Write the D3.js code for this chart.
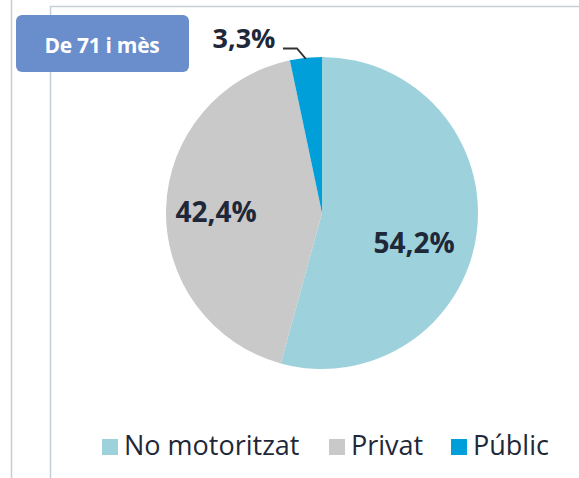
<!DOCTYPE html>
<html><head><meta charset="utf-8">
<script src="https://cdn.jsdelivr.net/npm/d3@7"></script>
<style>html,body{margin:0;padding:0;background:#fff;}svg{display:block;}</style>
</head><body>
<svg id="c" width="579" height="478"></svg>
<script>
const categories = ["No motoritzat", "Privat", "Públic"];
const values = [54.2, 42.4, 3.3];
const labels = ["54,2%", "42,4%", "3,3%"];
const colors = ["#9DD1DC", "#C9C9C9", "#009FD9"];
const title = "De 71 i mès";

const svg = d3.select("#c");
// frame lines
svg.append("line").attr("x1",11.5).attr("x2",11.5).attr("y1",0).attr("y2",478).attr("stroke","#C5CED8").attr("stroke-width",1.5);
svg.append("line").attr("x1",50.5).attr("x2",50.5).attr("y1",6).attr("y2",478).attr("stroke","#C5CED8").attr("stroke-width",1.5);
svg.append("line").attr("x1",50).attr("x2",579).attr("y1",6.5).attr("y2",6.5).attr("stroke","#C5CED8").attr("stroke-width",1.5);

const cx = 322, cy = 213, r = 156;
const pie = d3.pie().sort(null).value(d => d)(values);
const arc = d3.arc().innerRadius(0).outerRadius(r);
const g = svg.append("g").attr("transform", `translate(${cx},${cy})`);
g.selectAll("path").data(pie).join("path")
  .attr("d", arc).attr("fill", (d,i) => colors[i]);

const fontLab = "'Open Sans', sans-serif";
const labPos = [[414, 243], [216, 212]];
g.selectAll("text.l").data(pie.slice(0,2)).join("text")
  .attr("class","l")
  .attr("x", (d,i) => labPos[i][0]-cx)
  .attr("y", (d,i) => labPos[i][1]-cy)
  .attr("dy","0.35em")
  .attr("text-anchor","middle")
  .style("font-family", fontLab).style("font-weight","bold").style("font-size","28px")
  .attr("fill","#1E2838")
  .text((d,i) => labels[i]);

// small slice label with leader
const p = pie[2];
const mid = (p.startAngle + p.endAngle)/2;
const ex = cx + r*Math.sin(mid), ey = cy - r*Math.cos(mid);
svg.append("path")
  .attr("d", `M283,48.5 L297,48.5 L${ex},${ey+1}`)
  .attr("fill","none").attr("stroke","#333").attr("stroke-width",1.8);
svg.append("text").attr("x",244).attr("y",48).attr("text-anchor","middle")
  .style("font-family", fontLab).style("font-weight","bold").style("font-size","27px")
  .attr("fill","#1E2838").text(labels[2]);

// title box
svg.append("rect").attr("x",16).attr("y",15).attr("width",173).attr("height",57).attr("rx",6)
  .attr("fill","#6A8DCB");
svg.append("text").attr("x",102).attr("y",46).attr("dy","0.35em").attr("text-anchor","middle")
  .style("font-family", fontLab).style("font-weight","bold").style("font-size","21px")
  .attr("letter-spacing","-0.3px")
  .attr("fill","#fff").text(title);

// legend
const legX = [102, 329, 451];
const lg = svg.append("g");
categories.forEach((c,i) => {
  lg.append("rect").attr("x",legX[i]).attr("y",439).attr("width",16).attr("height",16).attr("fill",colors[i]);
  lg.append("text").attr("x",legX[i]+22).attr("y",455)
    .style("font-family", fontLab).style("font-size","27px").attr("fill","#1E2838").text(c);
});
</script>
</body></html>
